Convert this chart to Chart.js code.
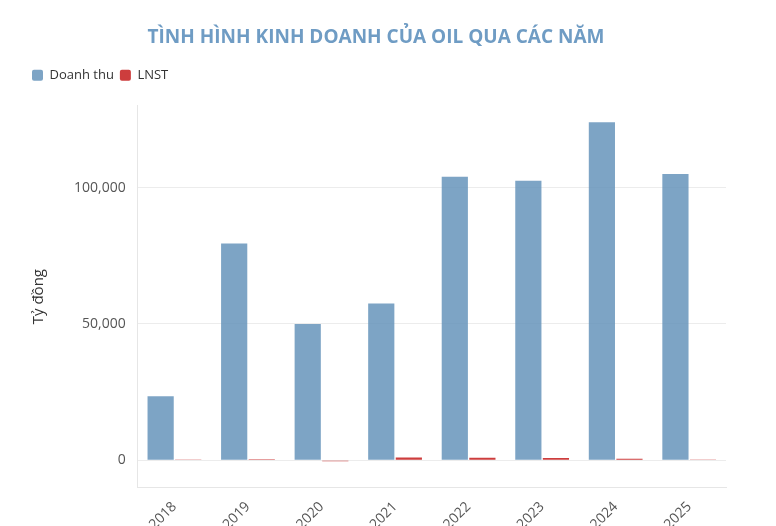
<!DOCTYPE html>
<html>
<head>
<meta charset="utf-8">
<script src="https://cdn.jsdelivr.net/npm/chart.js@4"></script>
<style>
  html, body { margin: 0; padding: 0; background: #fff; overflow: hidden; }
  #wrap { position: relative; width: 776px; height: 536px; }
</style>
</head>
<body>
<div id="wrap"><canvas id="chart"></canvas></div>
<script>
// data
var years = ["2018", "2019", "2020", "2021", "2022", "2023", "2024", "2025"];
var revenue = [23500, 79500, 50000, 57500, 104000, 102500, 124000, 105000];
var profit = [60, 400, -350, 1000, 950, 800, 500, 250];
var yTicks = [0, 50000, 100000];

var font = "'Open Sans', 'Noto Sans', sans-serif";

// extra room under the legend
var legendGap = {
    id: "legendGap",
    beforeInit: function(chart) {
        var fit = chart.legend.fit;
        chart.legend.fit = function() {
            fit.bind(chart.legend)();
            this.height += 14;
        };
    }
};

new Chart(document.getElementById("chart"), {
    type: "bar",
    data: {
        labels: years,
        datasets: [
            { label: "Doanh thu", data: revenue, backgroundColor: "rgba(102,148,187,0.85)" },
            { label: "LNST", data: profit, backgroundColor: "rgba(200,40,40,0.9)" }
        ]
    },
    options: {
        responsive: true,
        maintainAspectRatio: false,
        animation: false,
        datasets: { bar: { categoryPercentage: 0.75, barPercentage: 0.95 } },
        layout: { padding: { left: 26, right: 50, top: 20, bottom: 0 } },
        plugins: {
            title: {
                display: true,
                text: "TÌNH HÌNH KINH DOANH CỦA OIL QUA CÁC NĂM",
                color: "#6f9cc4",
                font: { family: font, size: 19, weight: "bold" },
                padding: { top: 6, bottom: 14 }
            },
            legend: {
                align: "start",
                labels: {
                    boxWidth: 11, boxHeight: 11, useBorderRadius: true, borderRadius: 2,
                    color: "#333", font: { family: font, size: 13 }, padding: 6
                }
            },
            tooltip: { enabled: false }
        },
        scales: {
            x: {
                grid: { display: false, drawTicks: true },
                border: { color: "#e6e6e6" },
                ticks: { color: "#555", font: { family: font, size: 14 }, maxRotation: 45, minRotation: 45 }
            },
            y: {
                min: -10000,
                max: 130000,
                afterBuildTicks: function(axis) {
                    axis.ticks = yTicks.map(function(v) { return { value: v }; });
                },
                grid: { color: "#ececec", drawTicks: false },
                border: { color: "#e6e6e6" },
                ticks: {
                    color: "#555", padding: 12, font: { family: font, size: 14 },
                    callback: function(v) { return v.toLocaleString("en-US"); }
                },
                title: { display: true, text: "Tỷ đồng", color: "#333", font: { family: font, size: 15 }, padding: { bottom: 14 } }
            }
        }
    },
    plugins: [legendGap]
});
</script>
</body>
</html>
